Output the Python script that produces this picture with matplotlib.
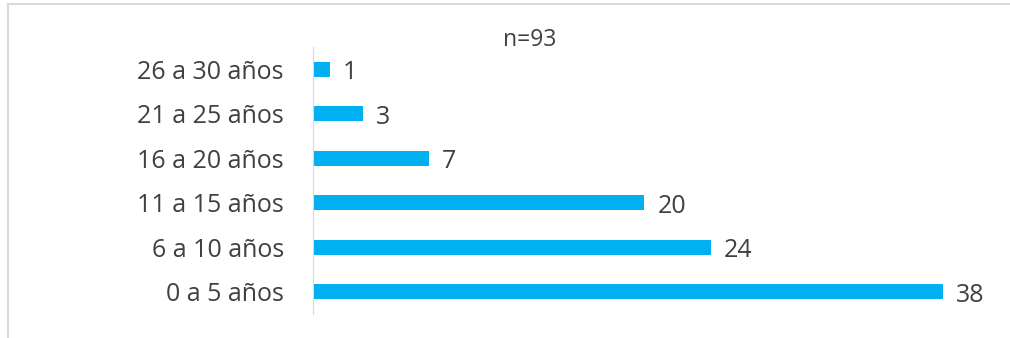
import matplotlib.pyplot as plt
from matplotlib.patches import Rectangle

categories = ["0 a 5 años", "6 a 10 años", "11 a 15 años",
              "16 a 20 años", "21 a 25 años", "26 a 30 años"]
values = [38, 24, 20, 7, 3, 1]
title = "n=93"

bar_color = "#00B0F0"
text_color = "#404040"

plt.rcParams["font.family"] = ["Open Sans", "DejaVu Sans"]

fig = plt.figure(figsize=(10.1, 3.38), dpi=100)
ax = fig.add_axes([0.31, 0.071, 0.656, 0.79])

# chart border (light gray frame)
fig.patches.append(Rectangle((8 / 1010, -0.1), 1.2, 1 - 4 / 338 + 0.1,
                             transform=fig.transFigure, fill=False,
                             edgecolor="#D9D9D9", linewidth=1.5))

y = range(len(categories))
ax.barh(y, values, height=0.34, color=bar_color)
for yi, v in zip(y, values):
    ax.text(v + 0.8, yi - 0.08, str(v), va="center", ha="left",
            fontsize=18, color=text_color)

ax.set_yticks(list(y))
ax.set_yticklabels(categories, fontsize=18, color=text_color)
ax.set_ylim(-0.5, len(categories) - 0.5)
ax.set_xlim(0, 40)
ax.set_xticks([])
ax.tick_params(axis="y", length=0, pad=21)
for s in ["top", "right", "bottom"]:
    ax.spines[s].set_visible(False)
ax.spines["left"].set_color("#D9D9D9")

fig.text(530 / 1010, 1 - 40 / 338, title, ha="center", va="center",
         fontsize=16.5, color=text_color)

fig.savefig("out.png", dpi=100)
